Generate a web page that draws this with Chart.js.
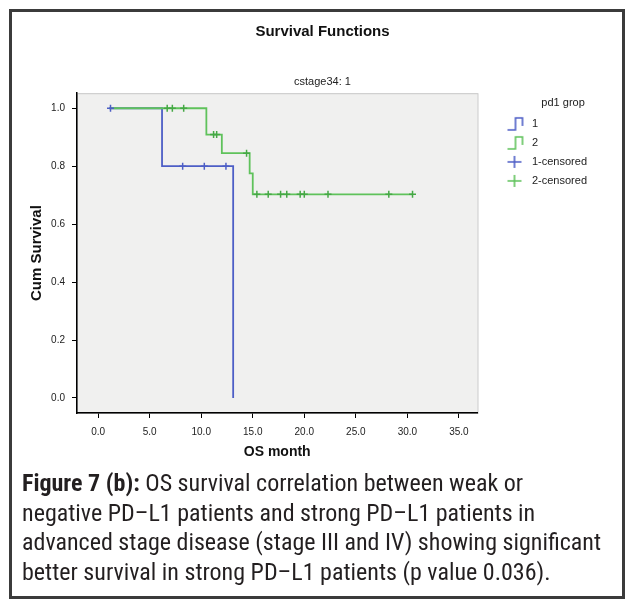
<!DOCTYPE html>
<html>
<head>
<meta charset="utf-8">
<script src="https://cdn.jsdelivr.net/npm/chart.js@4.4.0/dist/chart.umd.min.js"></script>
<style>
  html, body { margin: 0; padding: 0; background: #fff; }
  body { width: 635px; height: 615px; position: relative; overflow: hidden; }
  #frame { position: absolute; left: 9px; top: 9px; width: 610px; height: 584px; border: 3px solid #3b3b3b; }
  #plot { position: absolute; left: 0; top: 0; }
  #caption {
    position: absolute; left: 22px; top: 469px; width: 600px;
    font-family: "Liberation Sans Narrow", "Arial Narrow", "Roboto Condensed", sans-serif;
    font-size: 24px; line-height: 29.5px; color: #231f20; white-space: nowrap;
  }
</style>
</head>
<body>
<div id="frame"></div>
<canvas id="plot" width="635" height="470"></canvas>
<div id="caption"><b>Figure 7 (b):</b> OS survival correlation between weak or<br>negative PD–L1 patients and strong PD–L1 patients in<br>advanced stage disease (stage III and IV) showing significant<br>better survival in strong PD–L1 patients (p value 0.036).</div>
<script>
// pd1 group 1 - steps (month, cum survival)
const group1Months = [1.1, 6.2, 13.1];
const group1Surv = [1.0, 0.8, 0.0];
// pd1 group 2
const group2Months = [1.1, 10.5, 12.0, 14.7, 15.0, 30.5];
const group2Surv = [1.0, 0.909, 0.845, 0.775, 0.703, 0.703];
// censored cases
const cens1Months = [1.2, 8.2, 10.3, 12.4];
const cens1Surv = [1.0, 0.8, 0.8, 0.8];
const cens2Months = [6.7, 7.2, 8.3, 11.2, 11.5, 14.4, 15.4, 16.5, 17.7, 18.3, 19.6, 20.0, 22.3, 28.2, 30.5];
const cens2Surv = [1.0, 1.0, 1.0, 0.909, 0.909, 0.845, 0.703, 0.703, 0.703, 0.703, 0.703, 0.703, 0.703, 0.703, 0.703];

const xTicks = [0, 5, 10, 15, 20, 25, 30, 35];
const yTicks = [0, 0.2, 0.4, 0.6, 0.8, 1.0];
const legendNames = ['1', '2', '1-censored', '2-censored'];

const blue = '#4d5ec6';
const green = '#5fc25b';

const toPoints = (xs, ys) => xs.map((x, i) => ({ x: x, y: ys[i] }));

// маленькие картинки для легенды
function legendIcon(color, kind) {
  const c = document.createElement('canvas');
  c.width = 41; c.height = 16;
  const g = c.getContext('2d');
  g.strokeStyle = color;
  g.lineWidth = 1.6;
  g.beginPath();
  if (kind === 'step') {
    g.moveTo(22, 14); g.lineTo(30, 14); g.lineTo(30, 2);
    g.lineTo(37, 2); g.lineTo(37, 10);
  } else {
    g.moveTo(22, 8); g.lineTo(36, 8);
    g.moveTo(29, 2); g.lineTo(29, 14);
  }
  g.stroke();
  return c;
}
const icons = [legendIcon(blue, 'step'), legendIcon(green, 'step'), legendIcon(blue, 'cross'), legendIcon(green, 'cross')];

const plotBackground = {
  id: 'plotBackground',
  // заголовки центрируем по всей ширине, а не только над графиком
  afterLayout(chart) {
    chart.boxes.forEach(b => {
      if (b.position === 'top') { b.left = 10; b.right = 635; }
    });
  },
  beforeDraw(chart) {
    const { ctx, chartArea: a } = chart;
    ctx.save();
    ctx.fillStyle = '#f0f0ef';
    ctx.fillRect(a.left, a.top, a.right - a.left, a.bottom - a.top);
    ctx.strokeStyle = '#c8c8c8';
    ctx.lineWidth = 1;
    ctx.strokeRect(a.left + 0.5, a.top + 0.5, a.right - a.left, a.bottom - a.top);
    ctx.restore();
  }
};

new Chart(document.getElementById('plot').getContext('2d'), {
  type: 'line',
  data: {
    datasets: [
      { label: legendNames[0], data: toPoints(group1Months, group1Surv), borderColor: blue, borderWidth: 1.8, stepped: 'before', pointRadius: 0, order: 3 },
      { label: legendNames[1], data: toPoints(group2Months, group2Surv), borderColor: green, borderWidth: 1.8, stepped: 'before', pointRadius: 0, order: 2 },
      { label: legendNames[2], data: toPoints(cens1Months, cens1Surv), showLine: false, pointStyle: 'cross', pointRadius: 3.5, borderColor: blue, borderWidth: 1.5, order: 1 },
      { label: legendNames[3], data: toPoints(cens2Months, cens2Surv), showLine: false, pointStyle: 'cross', pointRadius: 3.5, borderColor: '#45a845', borderWidth: 1.5, order: 0 }
    ]
  },
  options: {
    responsive: false,
    animation: false,
    layout: { padding: { left: 0, right: 38, top: 0, bottom: 0 } },
    plugins: {
      title: {
        display: true, text: 'Survival Functions', color: '#111',
        font: { family: 'Liberation Sans, Arial, sans-serif', size: 15, weight: 'bold' },
        padding: { top: 23, bottom: 28 }
      },
      subtitle: {
        display: true, text: 'cstage34: 1', color: '#222',
        font: { family: 'Liberation Sans, Arial, sans-serif', size: 11 },
        padding: { top: 6, bottom: 5 }
      },
      legend: {
        position: 'right', align: 'start', fullSize: false,
        title: {
          display: true, text: 'pd1 grop\u00a0\u00a0\u00a0\u00a0', position: 'end', color: '#222',
          font: { family: 'Liberation Sans, Arial, sans-serif', size: 11 },
          padding: { top: 4, bottom: 0 }
        },
        labels: {
          usePointStyle: true, pointStyleWidth: 41, padding: 8, color: '#222',
          font: { family: 'Liberation Sans, Arial, sans-serif', size: 11 },
          generateLabels: (chart) => chart.data.datasets.map((ds, i) => ({
            text: ds.label, pointStyle: icons[i], datasetIndex: i,
            fillStyle: 'transparent', strokeStyle: 'transparent', lineWidth: 0, fontColor: '#222'
          }))
        }
      },
      tooltip: { enabled: false }
    },
    scales: {
      x: {
        type: 'linear', min: -2.05, max: 36.8,
        afterFit: (s) => { s.height = 57; },
        afterBuildTicks: (s) => { s.ticks = xTicks.map(v => ({ value: v })); },
        ticks: {
          color: '#222', padding: 8, maxRotation: 0,
          font: { family: 'Liberation Sans, Arial, sans-serif', size: 10 },
          callback: (v) => v.toFixed(1)
        },
        grid: { display: true, drawOnChartArea: false, drawTicks: true, tickLength: 5, color: '#000', lineWidth: 1 },
        border: { display: true, color: '#000', width: 1.5 },
        title: {
          display: true, text: 'OS month', color: '#111',
          font: { family: 'Liberation Sans, Arial, sans-serif', size: 14, weight: 'bold' },
          padding: { top: 0, bottom: 9 }
        }
      },
      y: {
        type: 'linear', min: -0.052, max: 1.052,
        afterFit: (s) => { s.width = 77; },
        afterBuildTicks: (s) => { s.ticks = yTicks.map(v => ({ value: v })); },
        ticks: {
          color: '#222', padding: 7,
          font: { family: 'Liberation Sans, Arial, sans-serif', size: 10 },
          callback: (v) => v.toFixed(1)
        },
        grid: { display: true, drawOnChartArea: false, drawTicks: true, tickLength: 5, color: '#000', lineWidth: 1 },
        border: { display: true, color: '#000', width: 1.5 },
        title: {
          display: true, text: 'Cum Survival', color: '#111',
          font: { family: 'Liberation Sans, Arial, sans-serif', size: 15, weight: 'bold' },
          padding: { top: 28, bottom: 0 }
        }
      }
    }
  },
  plugins: [plotBackground]
});
</script>
</body>
</html>
